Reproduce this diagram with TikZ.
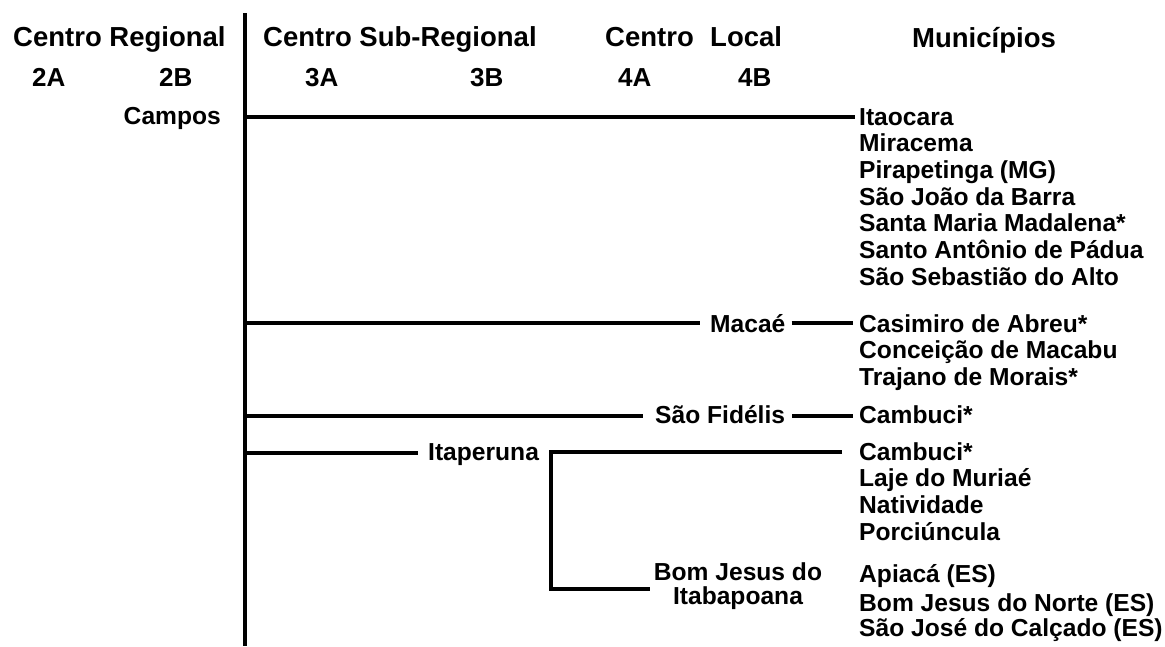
\documentclass[tikz,border=0pt]{standalone}
\usepackage{fontspec}
\setmainfont{Liberation Sans}
\begin{document}
\begin{tikzpicture}[x=1pt,y=-1pt,
  hdr/.style={font=\fontsize{27.5}{30}\selectfont\bfseries, inner sep=0pt, anchor=base west},
  code/.style={font=\fontsize{26}{28}\selectfont\bfseries, inner sep=0pt, anchor=base west},
  mun/.style={font=\fontsize{24.6}{26.7}\selectfont\bfseries, inner sep=0pt, anchor=base west},
  ctr/.style={font=\fontsize{24.6}{26.7}\selectfont\bfseries, inner sep=0pt},
  link/.style={line width=3.6pt, line join=miter}]
\useasboundingbox (0,0) rectangle (1165,646);
% headers
\node[hdr] (hreg) at (13,46) {Centro Regional};
\node[hdr] (hsub) at (263,46) {Centro Sub-Regional};
\node[hdr] (hcen) at (605,46) {Centro};
\node[hdr] (hloc) at (710,46) {Local};
\node[hdr] (hmun) at (912,47) {Municípios};
\node[code] (c2a) at (32,86) {2A};
\node[code] (c2b) at (159,86) {2B};
\node[code] (c3a) at (305,86) {3A};
\node[code] (c3b) at (470,86) {3B};
\node[code] (c4a) at (618,86) {4A};
\node[code] (c4b) at (738,86) {4B};
% centres
\node[ctr, anchor=base east] (campos) at (221,124) {Campos};
\node[ctr, anchor=base west] (macae) at (710,332) {Macaé};
\node[ctr, anchor=base west] (fidelis) at (655,423) {São Fidélis};
\node[ctr, anchor=base west] (itap) at (428,460) {Itaperuna};
\node[ctr, anchor=base] (bj1) at (738,580) {Bom Jesus do};
\node[ctr, anchor=base] (bj2) at (738,604) {Itabapoana};
% municipalities
\node[mun] (m1) at (859,125) {Itaocara};
\node[mun] (m2) at (859,151.7) {Miracema};
\node[mun] (m3) at (859,178.4) {Pirapetinga (MG)};
\node[mun] (m4) at (859,205.1) {São João da Barra};
\node[mun] (m5) at (859,231.8) {Santa Maria Madalena*};
\node[mun] (m6) at (859,258.5) {Santo Antônio de Pádua};
\node[mun] (m7) at (859,285.2) {São Sebastião do Alto};
\node[mun] (m8) at (859,332) {Casimiro de Abreu*};
\node[mun] (m9) at (859,358.7) {Conceição de Macabu};
\node[mun] (m10) at (859,385.4) {Trajano de Morais*};
\node[mun] (m11) at (859,423) {Cambuci*};
\node[mun] (m12) at (859,460) {Cambuci*};
\node[mun] (m13) at (859,486.7) {Laje do Muriaé};
\node[mun] (m14) at (859,513.4) {Natividade};
\node[mun] (m15) at (859,540) {Porciúncula};
\node[mun] (m16) at (859,582) {Apiacá (ES)};
\node[mun] (m17) at (859,611) {Bom Jesus do Norte (ES)};
\node[mun] (m18) at (859,636) {São José do Calçado (ES)};
% main vertical line
\coordinate (vtop) at (245,13);
\coordinate (vbot) at (245,646);
\draw[link] (vtop) -- (vbot);
\coordinate (j1) at (245,117);
\coordinate (j2) at (245,323);
\coordinate (j3) at (245,416);
\coordinate (j4) at (245,453);
% Campos
\draw[link] (j1) -- ([xshift=-4pt]m1.west |- j1);
% Macae
\draw[link] (j2) -- ([xshift=-10pt]macae.west |- j2);
\draw[link] ([xshift=6pt]macae.east |- j2) -- ([xshift=-6pt]m8.west |- j2);
% Sao Fidelis
\draw[link] (j3) -- ([xshift=-12pt]fidelis.west |- j3);
\draw[link] ([xshift=7pt]fidelis.east |- j3) -- ([xshift=-6pt]m11.west |- j3);
% Itaperuna
\draw[link] (j4) -- ([xshift=-10pt]itap.west |- j4);
\coordinate (b1) at (551,452);
\coordinate (b2) at (551,589);
\draw[link] ([xshift=-17pt]m12.west |- b1) -- (b1) -- (b2) -- ([xshift=-4pt]bj1.west |- b2);
\end{tikzpicture}
\end{document}
